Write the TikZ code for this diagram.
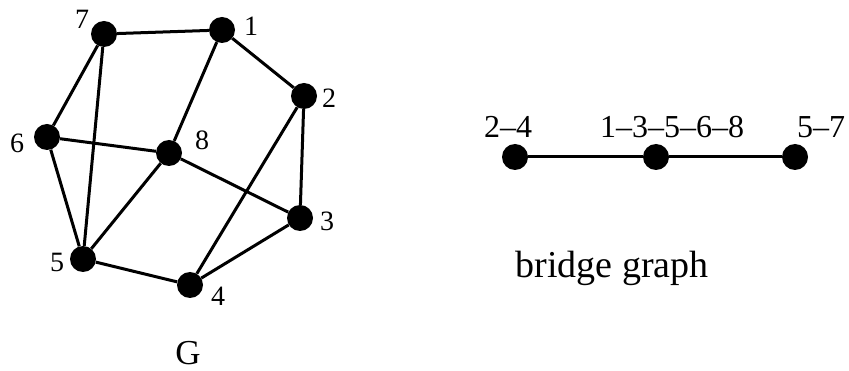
\documentclass[tikz,border=0pt]{standalone}
\usepackage{fontspec}
\setmainfont{Liberation Serif}
\begin{document}
\begin{tikzpicture}[x=1pt,y=-1pt,
  vtx/.style={circle,fill=black,inner sep=0pt,minimum size=26pt},
  lbl/.style={font=\fontsize{28}{32}\selectfont,inner sep=0pt},
  blbl/.style={font=\fontsize{32}{36}\selectfont,inner sep=0pt},
  captext/.style={font=\fontsize{35}{40}\selectfont,inner sep=0pt},
  edge/.style={line width=3pt}]
\useasboundingbox (0,0) rectangle (849,371);
% graph G
\node[vtx] (v7) at (104,34) {};
\node[vtx] (v1) at (222,30) {};
\node[vtx] (v2) at (304,96) {};
\node[vtx] (v6) at (47,137) {};
\node[vtx] (v8) at (169,153) {};
\node[vtx] (v3) at (300,218) {};
\node[vtx] (v5) at (83,259) {};
\node[vtx] (v4) at (190,285) {};
\draw[edge] (v7) -- (v1) -- (v2) -- (v3) -- (v4) -- (v5) -- (v6) -- (v7) -- (v5);
\draw[edge] (v1) -- (v8) -- (v3);
\draw[edge] (v6) -- (v8) -- (v5);
\draw[edge] (v2) -- (v4);
\node[lbl] (l7) at (82,19) {7};
\node[lbl] (l1) at (251,26) {1};
\node[lbl] (l2) at (329,98) {2};
\node[lbl] (l6) at (17,143) {6};
\node[lbl] (l8) at (202,140) {8};
\node[lbl] (l3) at (327,221) {3};
\node[lbl] (l5) at (57,262) {5};
\node[lbl] (l4) at (218,296) {4};
\node[captext] (lG) at (188,353) {G};
% bridge graph
\node[vtx] (b1) at (515,157) {};
\node[vtx] (b2) at (656,157) {};
\node[vtx] (b3) at (795,157) {};
\draw[edge] (b1) -- (b2) -- (b3);
\node[blbl] (bl1) at (508,127) {2–4};
\node[blbl] (bl2) at (672,127) {1–3–5–6–8};
\node[blbl] (bl3) at (821,127) {5–7};
\node[captext,font=\fontsize{38}{42}\selectfont] (bt) at (612,268) {bridge graph};
\end{tikzpicture}
\end{document}
